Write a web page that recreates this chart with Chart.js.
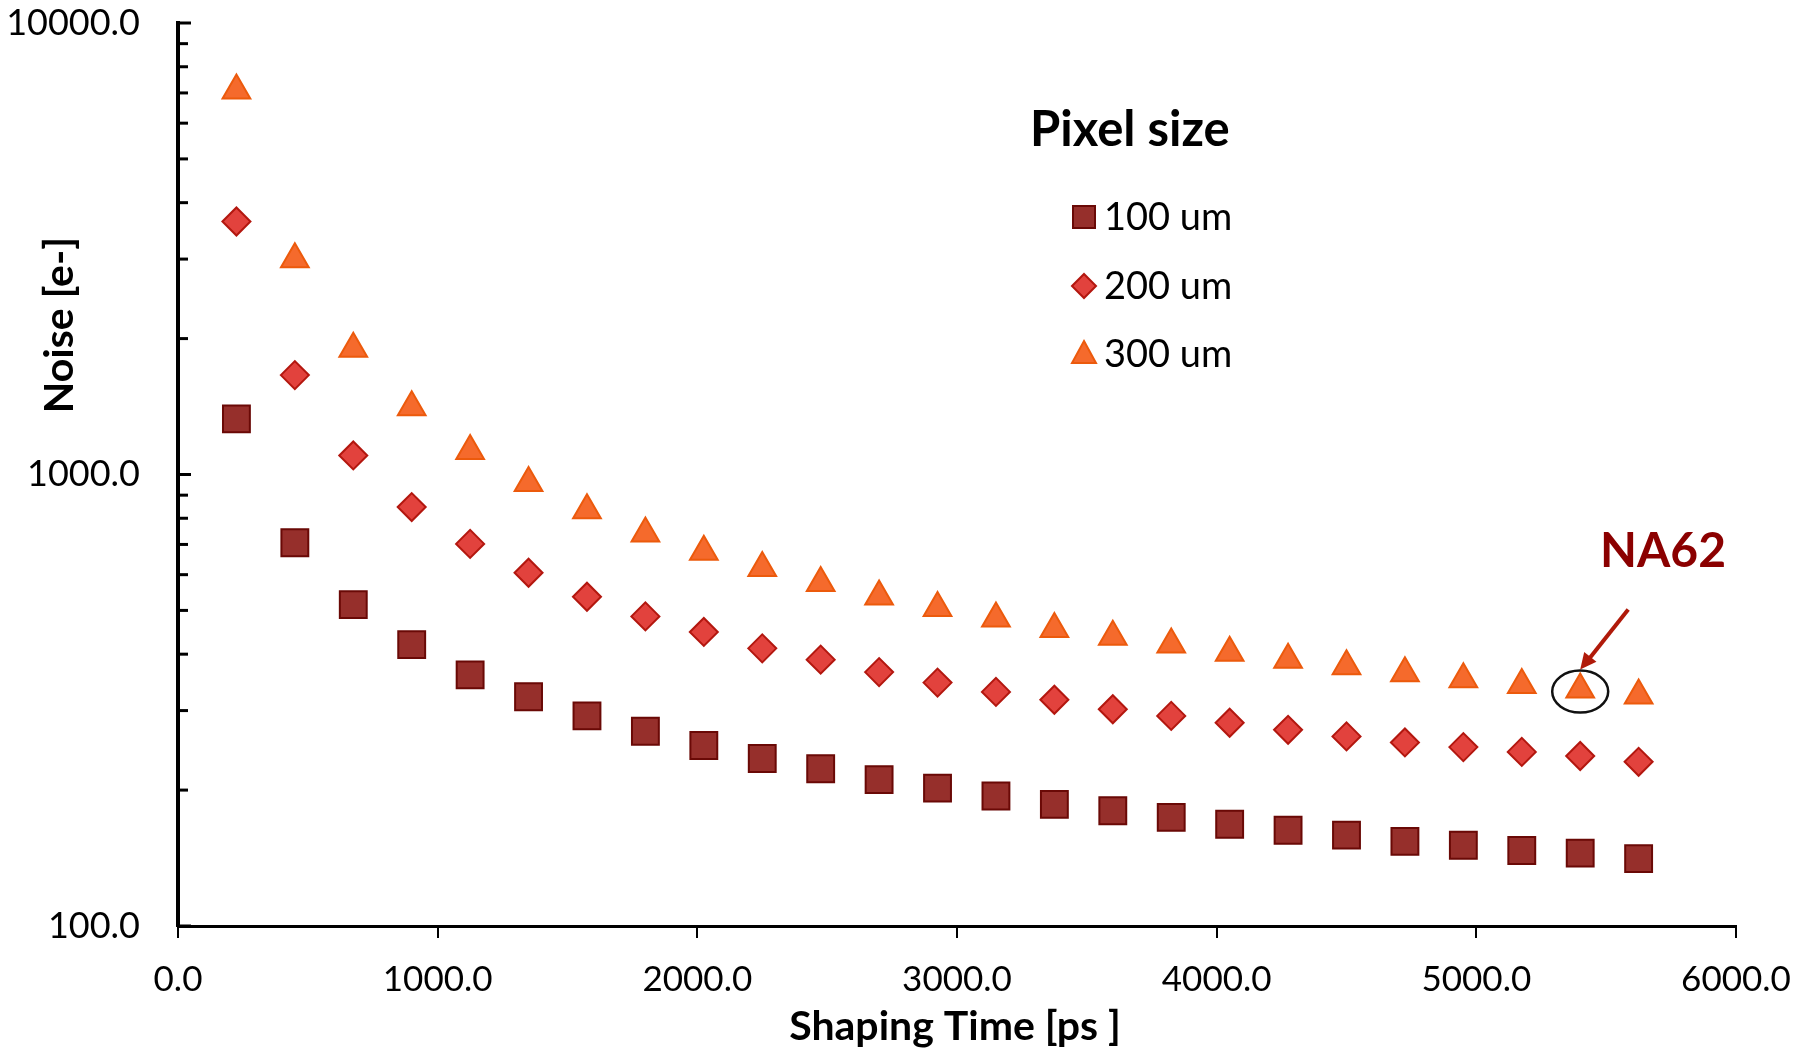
<!DOCTYPE html>
<html>
<head>
<meta charset="utf-8">
<title>Noise vs Shaping Time</title>
<script src="https://cdn.jsdelivr.net/npm/chart.js@4/dist/chart.umd.min.js"></script>
<style>
  html, body { margin: 0; padding: 0; background: #fff; }
  #wrap { width: 1800px; height: 1049px; }
</style>
</head>
<body>
<div id="wrap"><canvas id="noiseChart" width="1800" height="1049"></canvas></div>
<script>
// shaping time [ps]
const shapingTime = [225, 450, 675, 900, 1125, 1350, 1575, 1800, 2025, 2250, 2475, 2700, 2925,
    3150, 3375, 3600, 3825, 4050, 4275, 4500, 4725, 4950, 5175, 5400, 5625];

// noise [e-] per pixel size
const noise100 = [1328, 706, 515, 420, 360, 322, 292, 270, 251, 235, 223, 211, 202,
    194, 186, 180, 174, 168, 163, 159, 154, 151, 147, 145, 141];
const noise200 = [3634, 1660, 1102, 847, 702, 606, 536, 485, 448, 412, 389, 365, 346,
    330, 317, 302, 292, 282, 272, 263, 255, 249, 243, 238, 231];
const noise300 = [7085, 2996, 1898, 1409, 1128, 958, 833, 740, 674, 621, 575, 537, 506,
    480, 455, 437, 420, 403, 389, 376, 363, 352, 342, 334, 324];

const seriesLabels = ['100 um', '200 um', '300 um'];
const yTickLabels = [100, 1000, 10000];
const xTickLabels = [0, 1000, 2000, 3000, 4000, 5000, 6000];
const na62Time = 5400;

const FONT = 'Lato, "DejaVu Sans", sans-serif';

function toPoints(ys) {
    return shapingTime.map((x, i) => ({ x: x, y: ys[i] }));
}

// draws a marker shape for the legend
function drawMarker(ctx, style, x, y, fill, stroke) {
    ctx.save();
    ctx.fillStyle = fill;
    ctx.strokeStyle = stroke;
    ctx.lineWidth = 2;
    ctx.beginPath();
    if (style === 'rect') {
        ctx.rect(x - 11, y - 11, 22, 22);
    } else if (style === 'rectRot') {
        ctx.moveTo(x - 12, y);
        ctx.lineTo(x, y - 12);
        ctx.lineTo(x + 12, y);
        ctx.lineTo(x, y + 12);
        ctx.closePath();
    } else {
        ctx.moveTo(x, y - 13);
        ctx.lineTo(x + 12, y + 9);
        ctx.lineTo(x - 12, y + 9);
        ctx.closePath();
    }
    ctx.fill();
    ctx.stroke();
    ctx.restore();
}

const extras = {
    id: 'extras',
    afterDraw(chart) {
        const ctx = chart.ctx;
        const xs = chart.scales.x;
        const ys = chart.scales.y;
        const area = chart.chartArea;

        // inward minor/major ticks of the log axis
        ctx.save();
        ctx.strokeStyle = '#000';
        ctx.lineWidth = 3;
        for (let dec = 100; dec <= 10000; dec *= 10) {
            for (let m = 1; m <= 9; m++) {
                const v = dec * m;
                if (v > 10000) break;
                const py = ys.getPixelForValue(v);
                const len = m === 1 ? 13 : 10;
                ctx.beginPath();
                ctx.moveTo(area.left, py);
                ctx.lineTo(area.left + len, py);
                ctx.stroke();
            }
        }
        ctx.restore();

        // axis titles
        ctx.save();
        ctx.fillStyle = '#000';
        ctx.font = 'bold 41px ' + FONT;
        ctx.textAlign = 'center';
        ctx.textBaseline = 'middle';
        ctx.fillText('Shaping Time [ps ]', (area.left + area.right) / 2 - 2, 1027);
        ctx.translate(60, 325);
        ctx.rotate(-Math.PI / 2);
        ctx.fillText('Noise [e-]', 0, 0);
        ctx.restore();

        // legend
        ctx.save();
        ctx.fillStyle = '#000';
        ctx.font = 'bold 49px ' + FONT;
        ctx.textAlign = 'left';
        ctx.textBaseline = 'middle';
        ctx.fillText('Pixel size', 1030, 130);
        ctx.font = '38px ' + FONT;
        const rows = [217, 286, 354];
        chart.data.datasets.forEach((ds, i) => {
            drawMarker(ctx, ds.pointStyle, 1084, rows[i], ds.backgroundColor, ds.borderColor);
            ctx.fillStyle = '#000';
            ctx.fillText(ds.label, 1104, rows[i] + 1);
        });
        ctx.restore();

        // NA62 marker: ellipse round the 5400 ps point, arrow and label
        const idx = shapingTime.indexOf(na62Time);
        const cx = xs.getPixelForValue(na62Time);
        const cy = ys.getPixelForValue(noise300[idx]);
        ctx.save();
        ctx.strokeStyle = '#111';
        ctx.lineWidth = 2.5;
        ctx.beginPath();
        ctx.ellipse(cx, cy + 2, 28, 21, 0, 0, Math.PI * 2);
        ctx.stroke();

        const tipX = cx, tipY = cy - 20;
        const tailX = cx + 48, tailY = cy - 80;
        ctx.strokeStyle = '#b01a0a';
        ctx.fillStyle = '#b01a0a';
        ctx.lineWidth = 4;
        ctx.beginPath();
        ctx.moveTo(tailX, tailY);
        ctx.lineTo(tipX + 6, tipY - 7);
        ctx.stroke();
        const ang = Math.atan2(tipY - tailY, tipX - tailX);
        ctx.beginPath();
        ctx.moveTo(tipX, tipY);
        ctx.lineTo(tipX - 18 * Math.cos(ang - 0.45), tipY - 18 * Math.sin(ang - 0.45));
        ctx.lineTo(tipX - 18 * Math.cos(ang + 0.45), tipY - 18 * Math.sin(ang + 0.45));
        ctx.closePath();
        ctx.fill();

        ctx.fillStyle = '#8b0000';
        ctx.font = 'bold 48px ' + FONT;
        ctx.textAlign = 'left';
        ctx.textBaseline = 'middle';
        ctx.fillText('NA62', 1600, 552);
        ctx.restore();
    }
};

new Chart(document.getElementById('noiseChart').getContext('2d'), {
    type: 'scatter',
    data: {
        datasets: [{
            label: seriesLabels[0],
            data: toPoints(noise100),
            pointStyle: 'rect',
            pointRadius: 19,
            backgroundColor: '#962f2b',
            borderColor: '#6a0906',
            borderWidth: 2
        }, {
            label: seriesLabels[1],
            data: toPoints(noise200),
            pointStyle: 'rectRot',
            pointRadius: 14,
            backgroundColor: '#e2423d',
            borderColor: '#b3170f',
            borderWidth: 2
        }, {
            label: seriesLabels[2],
            data: toPoints(noise300),
            pointStyle: 'triangle',
            pointRadius: 16,
            backgroundColor: '#f56a2c',
            borderColor: '#ec5a0c',
            borderWidth: 2
        }]
    },
    options: {
        responsive: false,
        animation: false,
        layout: { padding: { top: 23, right: 64, left: 0, bottom: 0 } },
        plugins: {
            legend: { display: false },
            tooltip: { enabled: false }
        },
        scales: {
            x: {
                type: 'linear',
                min: 0,
                max: 6000,
                afterFit: scale => {
                    scale.height = 123;
                    scale.paddingLeft = 0;
                    scale.paddingRight = 0;
                },
                afterBuildTicks: scale => {
                    scale.ticks = xTickLabels.map(v => ({ value: v }));
                },
                border: { color: '#000', width: 3 },
                grid: {
                    drawOnChartArea: false,
                    color: '#000',
                    lineWidth: 2,
                    tickLength: 12
                },
                ticks: {
                    color: '#000',
                    padding: 21,
                    maxRotation: 0,
                    font: { family: FONT, size: 35 },
                    callback: v => v.toFixed(1)
                }
            },
            y: {
                type: 'logarithmic',
                min: 100,
                max: 10000,
                afterFit: scale => {
                    scale.width = 178;
                    scale.paddingTop = 0;
                    scale.paddingBottom = 0;
                },
                afterBuildTicks: scale => {
                    scale.ticks = yTickLabels.map(v => ({ value: v }));
                },
                border: { color: '#000', width: 4 },
                grid: { display: false },
                ticks: {
                    color: '#000',
                    padding: 30,
                    font: { family: FONT, size: 36 },
                    callback: v => Number(v).toFixed(1)
                }
            }
        }
    },
    plugins: [extras]
});
</script>
</body>
</html>
